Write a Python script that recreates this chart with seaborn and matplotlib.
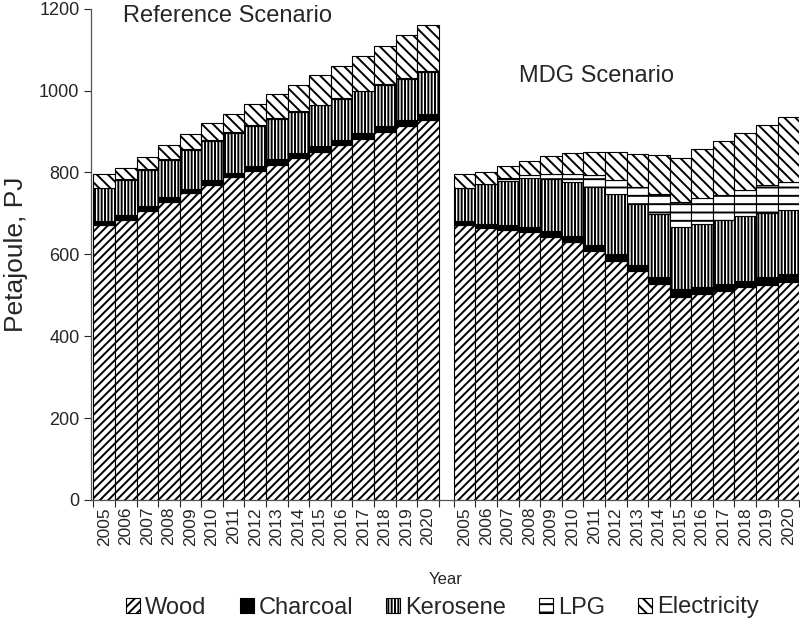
import numpy as np
import pandas as pd
import matplotlib
matplotlib.use('Agg')
import matplotlib.pyplot as plt
from matplotlib.patches import Patch
import seaborn as sns

years = [str(y) for y in range(2005, 2021)]
fuels = ['Wood', 'Charcoal', 'Kerosene', 'LPG', 'Electricity']

# Reference scenario, PJ per fuel
ref_wood = [671, 685, 707, 729, 750, 770, 788, 804, 819, 836, 850, 867, 883, 898, 914, 928]
ref_charcoal = [10, 10, 11, 11, 10, 11, 11, 12, 13, 12, 14, 13, 14, 15, 15, 16]
ref_kerosene = [80, 86, 89, 90, 95, 97, 97, 97, 99, 100, 100, 100, 101, 101, 100, 102]
ref_lpg = [2, 2, 2, 2, 2, 2, 2, 2, 2, 2, 2, 2, 2, 2, 2, 2]
ref_electricity = [34, 29, 29, 34, 36, 42, 46, 52, 58, 63, 71, 79, 84, 94, 105, 112]

# MDG scenario, PJ per fuel
mdg_wood = [671, 665, 660, 654, 642, 630, 608, 585, 559, 528, 495, 503, 511, 521, 524, 532]
mdg_charcoal = [10, 10, 11, 13, 15, 14, 16, 16, 14, 16, 20, 17, 17, 15, 20, 20]
mdg_kerosene = [80, 96, 108, 119, 126, 133, 141, 147, 151, 154, 151, 155, 155, 157, 157, 157]
mdg_lpg = [2, 2, 7, 7, 14, 20, 28, 33, 41, 49, 62, 63, 63, 65, 68, 68]
mdg_electricity = [34, 28, 29, 35, 43, 51, 57, 69, 81, 95, 108, 119, 131, 139, 148, 159]

ref = pd.DataFrame({'Wood': ref_wood, 'Charcoal': ref_charcoal, 'Kerosene': ref_kerosene,
                    'LPG': ref_lpg, 'Electricity': ref_electricity}, index=years)
mdg = pd.DataFrame({'Wood': mdg_wood, 'Charcoal': mdg_charcoal, 'Kerosene': mdg_kerosene,
                    'LPG': mdg_lpg, 'Electricity': mdg_electricity}, index=years)

sns.set_theme(style='ticks')
plt.rcParams['font.family'] = ['Liberation Sans', 'DejaVu Sans']
plt.rcParams['hatch.linewidth'] = 1.4

styles = {
    'Wood': dict(facecolor='white', hatch='////'),
    'Charcoal': dict(facecolor='black', hatch=None),
    'Kerosene': dict(facecolor='white', hatch='|||||'),
    'LPG': dict(facecolor='white', hatch='--'),
    'Electricity': dict(facecolor='white', hatch='\\\\\\'),
}

fig = plt.figure(figsize=(8, 6.25), dpi=100)
ax = fig.add_axes([0.114, 0.2, 0.885, 0.786])

gap_start = 16.7
x_ref = np.arange(len(years))
x_mdg = np.arange(len(years)) + gap_start

for df, xs in [(ref, x_ref), (mdg, x_mdg)]:
    bottom = np.zeros(len(df))
    for fuel in fuels:
        ax.bar(xs, df[fuel].values, width=1.0, bottom=bottom, edgecolor='black',
               linewidth=0.8, **styles[fuel])
        bottom += df[fuel].values

ax.set_xlim(-0.6, x_mdg[-1] + 0.5)
ax.set_ylim(0, 1200)
ax.set_yticks(range(0, 1201, 200))
ax.tick_params(axis='y', labelsize=13, direction='out', length=5, width=0.8)
ax.set_ylabel('Petajoule, PJ', fontsize=19, labelpad=8)

centers = np.concatenate([x_ref, x_mdg])
ax.set_xticks(centers)
ax.set_xticklabels(years + years, rotation=90, fontsize=12.5)
ax.tick_params(axis='x', which='major', length=0, pad=5)
edges = np.concatenate([np.arange(17) - 0.5, np.arange(17) - 0.5 + gap_start])
ax.set_xticks(edges, minor=True)
ax.tick_params(axis='x', which='minor', length=5, width=0.8, direction='out')
ax.set_xlabel('Year', fontsize=12, labelpad=19)

sns.despine(ax=ax)
for side in ['left', 'bottom']:
    ax.spines[side].set_color('#555555')
    ax.spines[side].set_linewidth(0.9)

ax.text(5.7, 1183, 'Reference Scenario', fontsize=17, ha='center', va='center')
ax.text(gap_start + 6.1, 1036, 'MDG Scenario', fontsize=17, ha='center', va='center')

handles = [Patch(edgecolor='black', linewidth=0.8, label=f, **styles[f]) for f in fuels]
fig.legend(handles=handles, loc='center', bbox_to_anchor=(0.553, 0.028), ncol=5, frameon=False,
           fontsize=17, handlelength=0.6, handleheight=0.6,
           handletextpad=0.2, columnspacing=1.4)

fig.savefig('out.png', dpi=100)
